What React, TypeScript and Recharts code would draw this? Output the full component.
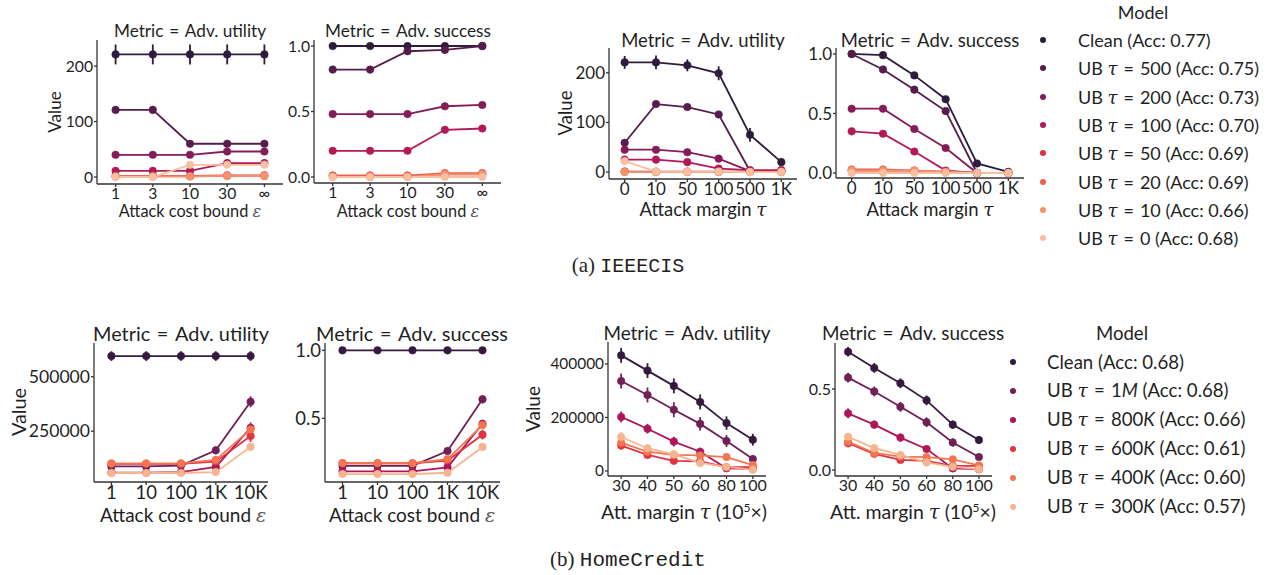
import React from 'react';
import { LineChart, Line, XAxis, YAxis, ErrorBar } from 'recharts';

const FONT = "Lato, 'Open Sans', sans-serif";
const INK = '#1f1f1f';

// ---------- Models / legends ----------
const ieeeColors = ['#2e1c3d', '#561c4c', '#841c58', '#b21a57', '#db3044', '#ed604c', '#f4926d', '#f7c0a0'];
const ieeeTau = ['', '500', '200', '100', '50', '20', '10', '0'];
const ieeeAcc = ['0.77', '0.75', '0.73', '0.70', '0.69', '0.69', '0.66', '0.68'];

const homeColors = ['#35193e', '#701f57', '#ad1759', '#e13342', '#f37651', '#f6b48f'];
const homeTau = ['', '1', '800', '600', '400', '300'];
const homeUnit = ['', 'M', 'K', 'K', 'K', 'K'];
const homeAcc = ['0.68', '0.68', '0.66', '0.61', '0.60', '0.57'];

// ---------- Tick labels ----------
const costTicksA = ['1', '3', '10', '30', '∞'];
const marginTicksA = ['0', '10', '50', '100', '500', '1K'];
const costTicksB = ['1', '10', '100', '1K', '10K'];
const marginTicksB = ['30', '40', '50', '60', '80', '100'];

// ---------- IEEECIS: adv. utility vs cost bound ----------
const ieeeCostUtil = [
  [221, 221, 221, 221, 221],
  [121, 121, 60, 60, 60],
  [40, 40, 40, 46, 46],
  [11, 11, 11, 25, 25],
  [2, 2, 2, 3, 3],
  [1, 1, 1, 2, 2],
  [1, 1, 1, 2, 2],
  [0, 0, 22, 22, 22],
];
const ieeeCostUtilErr = [
  [18, 18, 18, 18, 18],
  [5, 5, 4, 4, 4],
  [3, 3, 3, 3, 3],
  [2, 2, 2, 7, 7],
  [1, 1, 1, 1, 1],
  [1, 1, 1, 1, 1],
  [1, 1, 1, 1, 1],
  [1, 1, 2, 2, 2],
];

// ---------- IEEECIS: adv. success vs cost bound ----------
const ieeeCostSucc = [
  [1.0, 1.0, 1.0, 1.0, 1.0],
  [0.82, 0.82, 0.96, 0.97, 1.0],
  [0.48, 0.48, 0.48, 0.54, 0.55],
  [0.2, 0.2, 0.2, 0.36, 0.37],
  [0.01, 0.01, 0.01, 0.02, 0.02],
  [0.01, 0.01, 0.01, 0.03, 0.03],
  [0.0, 0.0, 0.0, 0.02, 0.02],
  [0.0, 0.0, 0.0, 0.0, 0.0],
];
const ieeeCostSuccErr = [
  [0.003, 0.003, 0.003, 0.003, 0.003],
  [0.01, 0.01, 0.01, 0.01, 0.005],
  [0.02, 0.02, 0.02, 0.02, 0.02],
  [0.02, 0.02, 0.02, 0.025, 0.025],
  [0.005, 0.005, 0.005, 0.005, 0.005],
  [0.005, 0.005, 0.005, 0.005, 0.005],
  [0.005, 0.005, 0.005, 0.005, 0.005],
  [0.005, 0.005, 0.005, 0.005, 0.005],
];

// ---------- IEEECIS: adv. utility vs margin ----------
const ieeeMarginUtil = [
  [221, 221, 215, 199, 75, 20],
  [59, 137, 131, 116, 2, 2],
  [45, 45, 40, 27, 2, 2],
  [25, 25, 20, 7, 4, 4],
  [1, 1, 1, 1, 1, 1],
  [1, 0, 0, 0, 0, 0],
  [0, 0, 0, 0, 0, 0],
  [22, 1, 1, 1, 0, 0],
];
const ieeeMarginUtilErr = [
  [13, 14, 12, 14, 14, 8],
  [4, 5, 5, 6, 1, 1],
  [3, 3, 3, 3, 1, 1],
  [7, 7, 6, 5, 4, 4],
  [1, 1, 1, 1, 1, 1],
  [1, 1, 1, 1, 1, 1],
  [1, 1, 1, 1, 1, 1],
  [2, 1, 1, 1, 1, 1],
];

// ---------- IEEECIS: adv. success vs margin ----------
const ieeeMarginSucc = [
  [1.0, 0.99, 0.82, 0.62, 0.08, 0.01],
  [1.0, 0.87, 0.7, 0.52, 0.0, 0.0],
  [0.54, 0.54, 0.37, 0.21, 0.0, 0.0],
  [0.35, 0.33, 0.18, 0.02, 0.0, 0.0],
  [0.02, 0.02, 0.02, 0.01, 0.0, 0.0],
  [0.03, 0.03, 0.02, 0.01, 0.0, 0.0],
  [0.02, 0.02, 0.02, 0.01, 0.0, 0.0],
  [0.0, 0.0, 0.0, 0.0, 0.0, 0.0],
];
const ieeeMarginSuccErr = [
  [0.005, 0.01, 0.015, 0.02, 0.01, 0.005],
  [0.005, 0.015, 0.015, 0.02, 0.005, 0.005],
  [0.025, 0.025, 0.025, 0.02, 0.005, 0.005],
  [0.025, 0.025, 0.02, 0.01, 0.005, 0.005],
  [0.01, 0.01, 0.01, 0.005, 0.005, 0.005],
  [0.01, 0.01, 0.01, 0.005, 0.005, 0.005],
  [0.01, 0.01, 0.01, 0.005, 0.005, 0.005],
  [0.005, 0.005, 0.005, 0.005, 0.005, 0.005],
];

// ---------- HomeCredit: adv. utility vs cost bound ----------
const homeCostUtil = [
  [595000, 595000, 595000, 595000, 595000],
  [88000, 88000, 92000, 162000, 385000],
  [60000, 60000, 62000, 86000, 265000],
  [100000, 100000, 100000, 110000, 228000],
  [102000, 102000, 102000, 118000, 258000],
  [58000, 58000, 58000, 62000, 178000],
];
const homeCostUtilErr = [
  [22000, 22000, 22000, 22000, 22000],
  [12000, 12000, 12000, 18000, 25000],
  [10000, 10000, 10000, 12000, 25000],
  [12000, 12000, 12000, 12000, 28000],
  [12000, 12000, 12000, 12000, 25000],
  [10000, 10000, 10000, 10000, 18000],
];

// ---------- HomeCredit: adv. success vs cost bound ----------
const homeCostSucc = [
  [1.0, 1.0, 1.0, 1.0, 1.0],
  [0.15, 0.15, 0.15, 0.26, 0.64],
  [0.11, 0.11, 0.11, 0.14, 0.46],
  [0.17, 0.17, 0.17, 0.19, 0.38],
  [0.17, 0.17, 0.17, 0.2, 0.45],
  [0.09, 0.09, 0.09, 0.1, 0.29],
];
const homeCostSuccErr = [
  [0.004, 0.004, 0.004, 0.004, 0.004],
  [0.02, 0.02, 0.02, 0.025, 0.03],
  [0.015, 0.015, 0.015, 0.02, 0.03],
  [0.02, 0.02, 0.02, 0.02, 0.035],
  [0.02, 0.02, 0.02, 0.02, 0.03],
  [0.012, 0.012, 0.012, 0.012, 0.025],
];

// ---------- HomeCredit: adv. utility vs margin ----------
const homeMarginUtil = [
  [432000, 375000, 318000, 258000, 179000, 117000],
  [336000, 284000, 229000, 176000, 112000, 45000],
  [202000, 158000, 110000, 72000, 10000, 8000],
  [95000, 60000, 38000, 36000, 14000, 14000],
  [106000, 72000, 60000, 58000, 52000, 22000],
  [127000, 85000, 62000, 30000, 15000, 5000],
];
const homeMarginUtilErr = [
  [28000, 28000, 28000, 28000, 25000, 22000],
  [28000, 28000, 28000, 25000, 22000, 12000],
  [20000, 18000, 18000, 15000, 8000, 6000],
  [15000, 12000, 10000, 10000, 8000, 8000],
  [15000, 12000, 10000, 10000, 12000, 10000],
  [18000, 15000, 12000, 10000, 8000, 6000],
];

// ---------- HomeCredit: adv. success vs margin ----------
const homeMarginSucc = [
  [0.73, 0.63, 0.535, 0.43, 0.28, 0.185],
  [0.57, 0.485, 0.39, 0.295, 0.17, 0.08],
  [0.35, 0.28, 0.2, 0.13, 0.01, 0.005],
  [0.165, 0.1, 0.062, 0.056, 0.025, 0.025],
  [0.175, 0.105, 0.083, 0.08, 0.066, 0.028],
  [0.205, 0.135, 0.093, 0.047, 0.02, 0.005],
];
const homeMarginSuccErr = [
  [0.03, 0.03, 0.03, 0.03, 0.025, 0.025],
  [0.03, 0.03, 0.03, 0.03, 0.025, 0.015],
  [0.03, 0.025, 0.025, 0.02, 0.01, 0.01],
  [0.025, 0.02, 0.015, 0.015, 0.01, 0.01],
  [0.025, 0.02, 0.015, 0.015, 0.02, 0.01],
  [0.02, 0.02, 0.015, 0.01, 0.01, 0.01],
];

type PanelProps = {
  x0: number; x1: number; y0: number; y1: number;
  domain: [number, number];
  yTicks: number[];
  yFmt: (v: number) => string;
  labels: string[];
  values: number[][];
  errs: number[][];
  colors: string[];
  fontSize: number;
  yFontSize?: number;
};

function Panel(p: PanelProps) {
  const YW = 90, MT = 8, MR = 8, XH = 40;
  const plotW = p.x1 - p.x0;
  const plotH = p.y1 - p.y0;
  const data = p.labels.map((_, i) => {
    const row: Record<string, number> = { x: i };
    p.values.forEach((s, k) => {
      row['v' + k] = s[i];
      row['e' + k] = p.errs[k][i];
    });
    return row;
  });
  const tickStyle = { fontSize: p.fontSize, fill: INK, fontFamily: FONT };
  const yTickStyle = { fontSize: p.yFontSize || p.fontSize, fill: INK, fontFamily: FONT };
  return (
    <div style={{ position: 'absolute', left: p.x0 - YW, top: p.y0 - MT }}>
      <LineChart
        width={YW + plotW + MR}
        height={MT + plotH + XH}
        data={data}
        margin={{ top: MT, right: MR, bottom: 0, left: 0 }}
      >
        <XAxis
          dataKey="x"
          type="number"
          domain={[-0.5, p.labels.length - 0.5]}
          ticks={p.labels.map((_, i) => i)}
          tickFormatter={(i: number) => p.labels[i]}
          interval={0}
          allowDataOverflow
          height={XH}
          stroke="#333"
          strokeWidth={1.3}
          tickSize={3}
          tickMargin={1}
          tick={tickStyle}
        />
        <YAxis
          type="number"
          domain={p.domain}
          ticks={p.yTicks}
          tickFormatter={p.yFmt}
          interval={0}
          allowDataOverflow
          width={YW}
          stroke="#333"
          strokeWidth={1.3}
          tickSize={3}
          tickMargin={1}
          tick={yTickStyle}
        />
        {p.values.map((_, k) => (
          <Line
            key={k}
            dataKey={'v' + k}
            stroke={p.colors[k]}
            strokeWidth={1.8}
            dot={{ r: 3.8, fill: p.colors[k], stroke: p.colors[k], strokeWidth: 0.5 }}
            activeDot={false}
            isAnimationActive={false}
          >
            <ErrorBar dataKey={'e' + k} width={0} stroke={p.colors[k]} strokeWidth={1.8} direction="y" />
          </Line>
        ))}
      </LineChart>
    </div>
  );
}

type TProps = { x: number; y: number; size: number; children: React.ReactNode; left?: boolean; family?: string };
function T({ x, y, size, children, left, family }: TProps) {
  const tr = `translate(${left ? '0' : '-50%'}, -50%)`;
  return (
    <div
      style={{
        position: 'absolute', left: x, top: y, transform: tr, whiteSpace: 'nowrap',
        fontSize: size, lineHeight: 1, fontFamily: family || FONT, color: INK,
      }}
    >
      {children}
    </div>
  );
}

const f1 = (v: number) => v.toFixed(1);
const f0 = (v: number) => String(v);

const tau = <span style={{ fontFamily: "'DejaVu Serif', serif", fontStyle: 'italic' }}>τ</span>;
const eps = <span style={{ fontFamily: "'DejaVu Serif', serif", fontStyle: 'italic', color: '#555' }}>ε</span>;
const EQ = <span>{'\u2004=\u2004'}</span>;

export default function App() {
  // tick / title sizes for each sub-figure
  const tAL = 15.7, tAR = 17, tBL = 18.5, tBR = 16;
  const hAL = 17.2, hAR = 18.5, hBL = 19.9, hBR = 18.9;
  const lgA = 18, lgB = 18.6;
  return (
    <div style={{ position: 'absolute', left: 0, top: 0, width: 1270, height: 575, background: '#fff', overflow: 'hidden', fontFamily: FONT }}>
      {/* ---------- Row (a) IEEECIS ---------- */}
      <Panel x0={97} x1={283} y0={40} y1={184} domain={[-12.6, 247]} yTicks={[0, 100, 200]} yFmt={f0}
        labels={costTicksA} values={ieeeCostUtil} errs={ieeeCostUtilErr} colors={ieeeColors} fontSize={tAL} />
      <Panel x0={314} x1={501} y0={40} y1={183} domain={[-0.046, 1.046]} yTicks={[0, 0.5, 1]} yFmt={f1}
        labels={costTicksA} values={ieeeCostSucc} errs={ieeeCostSuccErr} colors={ieeeColors} fontSize={tAL} />
      <Panel x0={609} x1={797} y0={48} y1={179} domain={[-14, 250]} yTicks={[0, 100, 200]} yFmt={f0}
        labels={marginTicksA} values={ieeeMarginUtil} errs={ieeeMarginUtilErr} colors={ieeeColors} fontSize={tAR} />
      <Panel x0={836} x1={1024} y0={48} y1={178} domain={[-0.042, 1.05]} yTicks={[0, 0.5, 1]} yFmt={f1}
        labels={marginTicksA} values={ieeeMarginSucc} errs={ieeeMarginSuccErr} colors={ieeeColors} fontSize={tAR} />

      <T x={190} y={31} size={hAL}>Metric{EQ}Adv. utility</T>
      <T x={408} y={31} size={hAL}>Metric{EQ}Adv. success</T>
      <T x={703} y={40} size={hAR}>Metric{EQ}Adv. utility</T>
      <T x={930} y={40} size={hAR}>Metric{EQ}Adv. success</T>
      <T x={190} y={212} size={16.3}>Attack cost bound {eps}</T>
      <T x={408} y={212} size={16.3}>Attack cost bound {eps}</T>
      <T x={703} y={210} size={18.5}>Attack margin {tau}</T>
      <T x={930} y={210} size={18.5}>Attack margin {tau}</T>
      <T x={55} y={112} size={hAL}>
        <div style={{ transform: 'rotate(-90deg)' }}>Value</div>
      </T>
      <T x={565} y={113} size={hAR}>
        <div style={{ transform: 'rotate(-90deg)' }}>Value</div>
      </T>

      <T x={1143} y={12} size={lgA}>Model</T>
      {ieeeAcc.map((acc, i) => (
        <React.Fragment key={i}>
          <div style={{ position: 'absolute', left: 1043 - 3, top: 40 + i * 28.3 - 3, width: 6, height: 6, borderRadius: 3, background: ieeeColors[i] }} />
          <T x={1078} y={40 + i * 28.3} size={lgA} left>
            {i === 0 ? <>Clean (Acc: {acc})</> : <>UB {tau}{EQ}{ieeeTau[i]} (Acc: {acc})</>}
          </T>
        </React.Fragment>
      ))}

      <T x={628} y={266} size={21} family="'Liberation Serif', 'DejaVu Serif', serif">
        (a) <span style={{ fontFamily: "'Liberation Mono', 'DejaVu Sans Mono', monospace", fontSize: 20 }}>IEEECIS</span>
      </T>

      {/* ---------- Row (b) HomeCredit ---------- */}
      <Panel x0={94} x1={268} y0={343} y1={482} domain={[16600, 655000]} yTicks={[250000, 500000]} yFmt={f0}
        labels={costTicksB} values={homeCostUtil} errs={homeCostUtilErr} colors={homeColors} fontSize={tBL} yFontSize={17.6} />
      <Panel x0={325} x1={500} y0={343} y1={482} domain={[0.032, 1.054]} yTicks={[0.5, 1]} yFmt={f1}
        labels={costTicksB} values={homeCostSucc} errs={homeCostSuccErr} colors={homeColors} fontSize={tBL} />
      <Panel x0={608} x1={766} y0={342} y1={476} domain={[-18700, 482000]} yTicks={[0, 200000, 400000]} yFmt={f0}
        labels={marginTicksB} values={homeMarginUtil} errs={homeMarginUtilErr} colors={homeColors} fontSize={tBR} yFontSize={15.4} />
      <Panel x0={835} x1={992} y0={343} y1={476} domain={[-0.037, 0.784]} yTicks={[0, 0.5]} yFmt={f1}
        labels={marginTicksB} values={homeMarginSucc} errs={homeMarginSuccErr} colors={homeColors} fontSize={tBR} />

      <T x={181} y={334} size={hBL}>Metric{EQ}Adv. utility</T>
      <T x={412} y={334} size={hBL}>Metric{EQ}Adv. success</T>
      <T x={687} y={333} size={hBR}>Metric{EQ}Adv. utility</T>
      <T x={913} y={333} size={hBR}>Metric{EQ}Adv. success</T>
      <T x={183} y={515} size={19}>Attack cost bound {eps}</T>
      <T x={412} y={515} size={19}>Attack cost bound {eps}</T>
      <T x={684} y={512} size={19.5}>Att. margin {tau} (10<sup style={{ fontSize: 12 }}>5</sup>×)</T>
      <T x={913} y={512} size={19.5}>Att. margin {tau} (10<sup style={{ fontSize: 12 }}>5</sup>×)</T>
      <T x={19} y={412} size={hBL}>
        <div style={{ transform: 'rotate(-90deg)' }}>Value</div>
      </T>
      <T x={533} y={409} size={hBR}>
        <div style={{ transform: 'rotate(-90deg)' }}>Value</div>
      </T>

      <T x={1122} y={333} size={lgB}>Model</T>
      {homeAcc.map((acc, i) => (
        <React.Fragment key={i}>
          <div style={{ position: 'absolute', left: 1013 - 3, top: 362 + i * 29 - 3, width: 6, height: 6, borderRadius: 3, background: homeColors[i] }} />
          <T x={1047} y={362 + i * 29} size={lgB} left>
            {i === 0 ? <>Clean (Acc: {acc})</> : <>UB {tau}{EQ}{homeTau[i]}<i>{homeUnit[i]}</i> (Acc: {acc})</>}
          </T>
        </React.Fragment>
      ))}

      <T x={628} y={560} size={21} family="'Liberation Serif', 'DejaVu Serif', serif">
        (b) <span style={{ fontFamily: "'Liberation Mono', 'DejaVu Sans Mono', monospace", fontSize: 21 }}>HomeCredit</span>
      </T>
    </div>
  );
}
